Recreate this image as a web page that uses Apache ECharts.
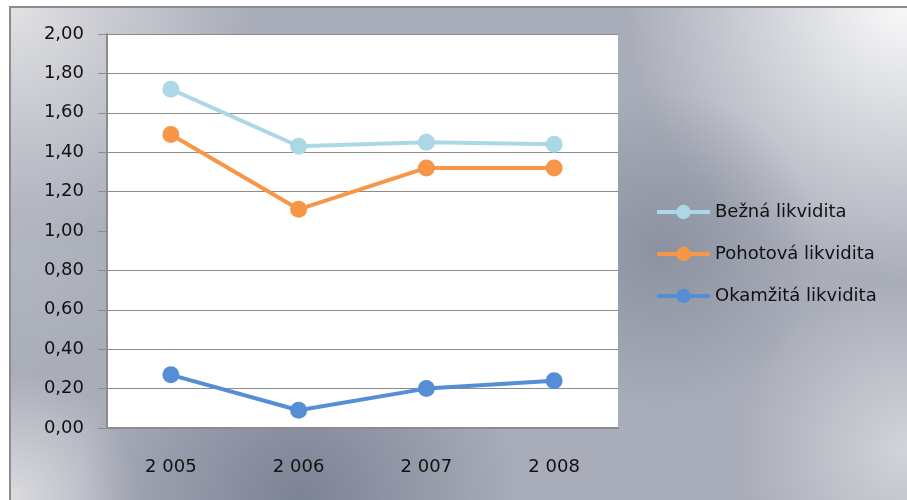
<!DOCTYPE html>
<html style="height: 100%">
<head>
    <meta charset="utf-8">
    <script src="https://cdn.jsdelivr.net/npm/echarts@6/dist/echarts.min.js"></script>
</head>
<body style="height: 100%; margin: 0; background: #fff">
    <div id="main" style="width: 907px; height: 500px;"></div>
    <script type="text/javascript">
        // data
        var years = ['2\u00a0005', '2\u00a0006', '2\u00a0007', '2\u00a0008'];
        var bezna = [1.72, 1.43, 1.45, 1.44];
        var pohotova = [1.49, 1.11, 1.32, 1.32];
        var okamzita = [0.27, 0.09, 0.20, 0.24];
        var seriesNames = ['Bežná likvidita', 'Pohotová likvidita', 'Okamžitá likvidita'];
        var seriesColors = ['#acd8e6', '#f79646', '#558ed5'];
        // horizontal grid lines seen in the original (no line at 1,00)
        var gridValues = [0.2, 0.4, 0.6, 0.8, 1.2, 1.4, 1.6, 1.8, 2.0];

        var font = '"DejaVu Sans", "Noto Sans", sans-serif';

        var myChart = echarts.init(document.getElementById('main'));

        function mkSeries(i, data) {
            return {
                name: seriesNames[i],
                type: 'line',
                data: data,
                symbol: 'circle',
                symbolSize: 17,
                lineStyle: { width: 4, color: seriesColors[i] },
                itemStyle: { color: seriesColors[i] },
                emphasis: { disabled: true },
                z: 5
            };
        }

        // radial glow layer for the silver background
        function glow(x, y, r, color) {
            return {
                type: 'rect',
                z: -9,
                silent: true,
                shape: { x: 11, y: 8, width: 900, height: 495 },
                style: {
                    fill: {
                        type: 'radial', x: x, y: y, r: r, global: true,
                        colorStops: [
                            { offset: 0, color: color },
                            { offset: 1, color: color.replace(/[\d.]+\)$/, '0)') }
                        ]
                    }
                }
            };
        }

        var option = {
            animation: false,
            backgroundColor: '#fff',
            graphic: [{
                type: 'rect',
                z: -10,
                silent: true,
                shape: { x: 10, y: 7, width: 910, height: 510 },
                style: { stroke: '#8c8c8c', lineWidth: 2, fill: '#a9adb9' }
            },
                glow(905, 0, 280, 'rgba(250,250,250,1)'),
                glow(10, 7, 240, 'rgba(228,228,230,0.95)'),
                glow(10, 500, 130, 'rgba(222,222,226,0.95)'),
                glow(907, 450, 170, 'rgba(220,221,224,0.8)'),
                glow(300, 500, 220, 'rgba(112,120,140,0.8)'),
                glow(660, 250, 160, 'rgba(128,134,150,0.7)'),
                glow(20, 260, 120, 'rgba(185,189,198,0.5)')
            ],
            grid: {
                left: 107,
                top: 34,
                right: 289,
                bottom: 72,
                show: true,
                backgroundColor: '#fff',
                borderWidth: 0,
                borderColor: 'transparent'
            },
            legend: {
                orient: 'vertical',
                left: 650,
                top: 198,
                itemWidth: 53,
                itemHeight: 18,
                itemGap: 24,
                lineStyle: { width: 4 },
                textStyle: { fontFamily: font, fontSize: 18, color: '#111' },
                data: seriesNames
            },
            xAxis: {
                type: 'category',
                data: years,
                axisLine: { lineStyle: { color: '#8c8c8c', width: 2 } },
                axisTick: { length: 7, lineStyle: { color: '#8c8c8c' } },
                axisLabel: { fontFamily: font, fontSize: 18, color: '#111', margin: 30 }
            },
            yAxis: {
                type: 'value',
                min: 0,
                max: 2,
                interval: 0.2,
                axisLine: { show: true, lineStyle: { color: '#8c8c8c', width: 2 } },
                axisTick: { show: true, length: 9, lineStyle: { color: '#8c8c8c' } },
                splitLine: { show: false },
                axisLabel: {
                    fontFamily: font, fontSize: 18, color: '#111', margin: 23,
                    formatter: function (v) { return v.toFixed(2).replace('.', ','); }
                }
            },
            series: [
                {
                    type: 'line',
                    data: [],
                    z: 1,
                    silent: true,
                    markLine: {
                        silent: true,
                        symbol: 'none',
                        label: { show: false },
                        lineStyle: { color: '#8c8c8c', width: 1, type: 'solid' },
                        emphasis: { disabled: true },
                        data: gridValues.map(function (v) { return { yAxis: v }; })
                    }
                },
                mkSeries(0, bezna),
                mkSeries(1, pohotova),
                mkSeries(2, okamzita)
            ]
        };

        myChart.setOption(option);
    </script>
</body>
</html>
